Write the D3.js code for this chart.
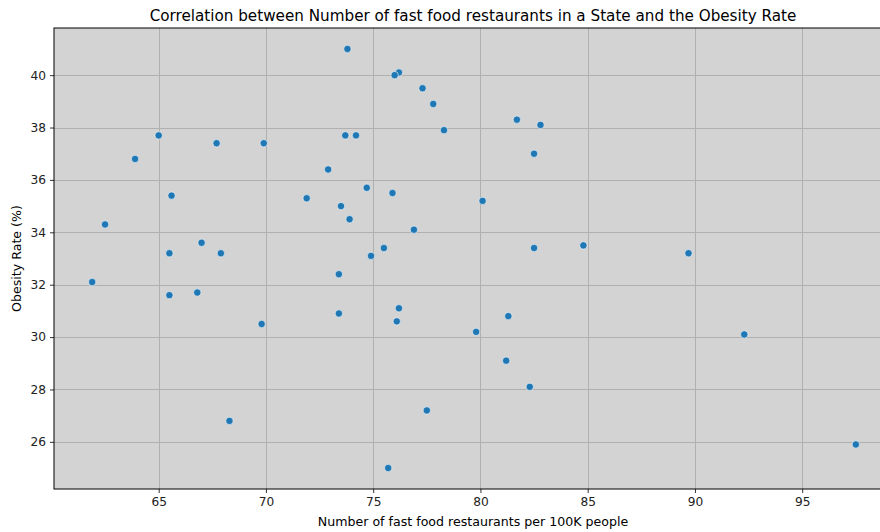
<!DOCTYPE html>
<html>
<head>
<meta charset="utf-8">
<script src="https://cdn.jsdelivr.net/npm/d3@7"></script>
<style>
  html, body { margin: 0; padding: 0; background: #ffffff; overflow: hidden; }
  svg { display: block; font-family: "DejaVu Sans", sans-serif; }
</style>
</head>
<body>
<svg id="chart" width="880" height="532"></svg>
<script>
// Fast food restaurants per 100K people (x) vs. obesity rate in % (y), one entry per state
const restaurantsPer100k = [
  65.0, 67.7, 69.9, 63.9, 65.6, 62.5, 67.0, 65.5, 67.9, 61.9,
  65.5, 66.8, 69.8, 68.3, 73.8, 76.2, 76.0, 77.3, 77.8, 78.3,
  73.7, 74.2, 72.9, 74.7, 71.9, 75.9, 73.5, 73.9, 76.9, 80.1,
  75.5, 74.9, 73.4, 73.4, 76.2, 76.1, 79.8, 77.5, 75.7, 81.7,
  82.8, 82.5, 82.5, 84.8, 81.3, 81.2, 82.3, 89.7, 92.3, 97.5
];
const obesityRate = [
  37.7, 37.4, 37.4, 36.8, 35.4, 34.3, 33.6, 33.2, 33.2, 32.1,
  31.6, 31.7, 30.5, 26.8, 41.0, 40.1, 40.0, 39.5, 38.9, 37.9,
  37.7, 37.7, 36.4, 35.7, 35.3, 35.5, 35.0, 34.5, 34.1, 35.2,
  33.4, 33.1, 32.4, 30.9, 31.1, 30.6, 30.2, 27.2, 25.0, 38.3,
  38.1, 37.0, 33.4, 33.5, 30.8, 29.1, 28.1, 33.2, 30.1, 25.9
];
const xTicks = [65, 70, 75, 80, 85, 90, 95];
const yTicks = [26, 28, 30, 32, 34, 36, 38, 40];

const titleText = "Correlation between Number of fast food restaurants in a State and the Obesity Rate";
const xLabelText = "Number of fast food restaurants per 100K people";
const yLabelText = "Obesity Rate (%)";

const points = restaurantsPer100k.map((v, i) => ({ x: v, y: obesityRate[i] }));

// Axes box (the right side runs past the window edge)
const box = { left: 54, right: 894, top: 28, bottom: 489 };

// 5% padding on each side of the data range
const xMin = d3.min(restaurantsPer100k), xMax = d3.max(restaurantsPer100k);
const yMin = d3.min(obesityRate), yMax = d3.max(obesityRate);
const xPad = (xMax - xMin) * 0.05, yPad = (yMax - yMin) * 0.05;

const x = d3.scaleLinear().domain([xMin - xPad, xMax + xPad]).range([box.left, box.right]);
const y = d3.scaleLinear().domain([yMin - yPad, yMax + yPad]).range([box.bottom, box.top]);

const svg = d3.select("#chart");

// Plot background
svg.append("rect")
  .attr("x", box.left).attr("y", box.top)
  .attr("width", box.right - box.left).attr("height", box.bottom - box.top)
  .attr("fill", "#d3d3d3");

// Grid lines
const grid = svg.append("g").attr("stroke", "#b0b0b0").attr("stroke-width", 1);
grid.selectAll(".gx").data(xTicks).join("line")
  .attr("x1", d => Math.round(x(d)) + 0.5).attr("x2", d => Math.round(x(d)) + 0.5)
  .attr("y1", box.top).attr("y2", box.bottom);
grid.selectAll(".gy").data(yTicks).join("line")
  .attr("x1", box.left).attr("x2", box.right)
  .attr("y1", d => Math.round(y(d)) + 0.5).attr("y2", d => Math.round(y(d)) + 0.5);

// Points
svg.append("g").selectAll("circle").data(points).join("circle")
  .attr("cx", d => x(d.x))
  .attr("cy", d => y(d.y))
  .attr("r", 3.7)
  .attr("fill", "#1f77b4")
  .attr("stroke", "#ffffff")
  .attr("stroke-width", 0.6);

// Axes
const xAxis = d3.axisBottom(x).tickValues(xTicks).tickSize(4).tickPadding(4).tickFormat(d3.format("d"));
const yAxis = d3.axisLeft(y).tickValues(yTicks).tickSize(4).tickPadding(4).tickFormat(d3.format("d"));

const gx = svg.append("g").attr("transform", `translate(0,${box.bottom})`).call(xAxis);
const gy = svg.append("g").attr("transform", `translate(${box.left},0)`).call(yAxis);
[gx, gy].forEach(g => {
  g.select(".domain").remove();
  g.selectAll(".tick line").attr("stroke", "#000").attr("stroke-width", 0.8);
  g.selectAll(".tick text").attr("fill", "#222").attr("font-size", 12.2)
    .attr("font-family", "DejaVu Sans, sans-serif");
});

// Frame
svg.append("rect")
  .attr("x", box.left).attr("y", box.top)
  .attr("width", box.right - box.left).attr("height", box.bottom - box.top)
  .attr("fill", "none").attr("stroke", "#000").attr("stroke-width", 1);

// Titles
const cx = (box.left + box.right) / 2;
svg.append("text")
  .attr("x", 473).attr("y", 21)
  .attr("text-anchor", "middle")
  .attr("font-size", 15.2)
  .attr("fill", "#000")
  .text(titleText);
svg.append("text")
  .attr("x", 473).attr("y", 526)
  .attr("text-anchor", "middle")
  .attr("font-size", 12.6)
  .attr("fill", "#000")
  .text(xLabelText);
svg.append("text")
  .attr("transform", `translate(21,${(box.top + box.bottom) / 2}) rotate(-90)`)
  .attr("text-anchor", "middle")
  .attr("font-size", 12.6)
  .attr("fill", "#000")
  .text(yLabelText);
</script>
</body>
</html>
